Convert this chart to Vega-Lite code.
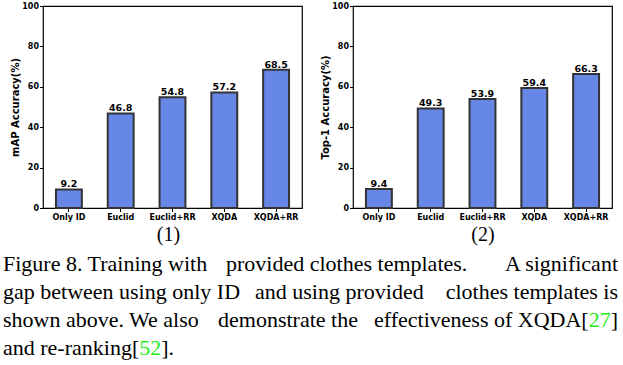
{
  "$schema": "https://vega.github.io/schema/vega-lite/v6.json",
  "background": "white",
  "padding": {"left": 3, "top": 1, "right": 0, "bottom": 0},
  "datasets": {
    "map": [
      {"method": "Only ID", "value": 9.2},
      {"method": "Euclid", "value": 46.8},
      {"method": "Euclid+RR", "value": 54.8},
      {"method": "XQDA", "value": 57.2},
      {"method": "XQDA+RR", "value": 68.5}
    ],
    "top1": [
      {"method": "Only ID", "value": 9.4},
      {"method": "Euclid", "value": 49.3},
      {"method": "Euclid+RR", "value": 53.9},
      {"method": "XQDA", "value": 59.4},
      {"method": "XQDA+RR", "value": 66.3}
    ],
    "caption": [
      {"line": 1, "seg": "L", "text": "Figure 8. Training with"},
      {"line": 1, "seg": "M1", "text": "provided clothes templates."},
      {"line": 1, "seg": "R", "text": "A significant"},
      {"line": 2, "seg": "L", "text": "gap between using only ID"},
      {"line": 2, "seg": "M2", "text": "and using provided"},
      {"line": 2, "seg": "R", "text": "clothes templates is"},
      {"line": 3, "seg": "L", "text": "shown above. We also"},
      {"line": 3, "seg": "M3", "text": "demonstrate the"},
      {"line": 3, "seg": "R", "text": "]"},
      {"line": 3, "seg": "R27", "text": "27"},
      {"line": 3, "seg": "RX", "text": "effectiveness of XQDA["},
      {"line": 4, "seg": "L", "text": "and re-ranking["},
      {"line": 4, "seg": "L52", "text": "52"},
      {"line": 4, "seg": "LEND", "text": "]."}
    ]
  },
  "config": {
    "view": {"stroke": "black", "strokeWidth": 1.2},
    "font": "DejaVu Sans",
    "axis": {
      "domain": false,
      "grid": false,
      "tickColor": "black",
      "tickSize": 3.5,
      "tickWidth": 1,
      "labelFont": "DejaVu Sans",
      "labelFontWeight": "bold",
      "labelFontSize": 8,
      "labelColor": "black",
      "titleColor": "black"
    },
    "text": {"font": "Liberation Serif", "fontSize": 22, "baseline": "alphabetic", "dy": 6, "color": "black"}
  },
  "vconcat": [
    {
      "hconcat": [
        {
          "width": 259,
          "height": 202,
          "data": {"name": "map"},
          "encoding": {
            "x": {
              "field": "method", "type": "nominal", "sort": null,
              "scale": {"paddingInner": 0.5, "paddingOuter": 0.25},
              "axis": {"title": "(1)", "titleX": 125, "labelAngle": 0, "labelFontSize": 8, "labelPadding": 1.5,
                "titleFont": "Liberation Serif", "titleFontWeight": "normal", "titleFontSize": 20, "titlePadding": 3}
            },
            "y": {
              "field": "value", "type": "quantitative",
              "scale": {"domain": [0, 100], "nice": false},
              "axis": {"title": "mAP Accuracy(%)", "values": [0, 20, 40, 60, 80, 100], "titleFontSize": 10,
                "titleFontWeight": "bold", "titlePadding": 1.5, "labelPadding": 1}
            }
          },
          "layer": [
            {"mark": {"type": "bar", "fill": "#6787E7", "stroke": "#333333", "strokeWidth": 2}},
            {"mark": {"type": "text", "baseline": "alphabetic", "dy": -2, "font": "DejaVu Sans", "fontWeight": "bold", "fontSize": 9.5, "color": "black"},
             "encoding": {
               "text": {"field": "value", "type": "quantitative", "format": ".1f"},
               "yOffset": {"field": "value", "type": "quantitative", "scale": {"domain": [0, 100], "range": [0, -20.2]}}
             }}
          ]
        },
        {
          "width": 259,
          "height": 202,
          "data": {"name": "top1"},
          "encoding": {
            "x": {
              "field": "method", "type": "nominal", "sort": null,
              "scale": {"paddingInner": 0.5, "paddingOuter": 0.25},
              "axis": {"title": "(2)", "labelAngle": 0, "labelFontSize": 8, "labelPadding": 1.5,
                "titleFont": "Liberation Serif", "titleFontWeight": "normal", "titleFontSize": 20, "titlePadding": 3}
            },
            "y": {
              "field": "value", "type": "quantitative",
              "scale": {"domain": [0, 100], "nice": false},
              "axis": {"title": "Top-1 Accuracy(%)", "values": [0, 20, 40, 60, 80, 100], "titleFontSize": 10,
                "titleFontWeight": "bold", "titlePadding": 1.5, "labelPadding": 1}
            }
          },
          "layer": [
            {"mark": {"type": "bar", "fill": "#6787E7", "stroke": "#333333", "strokeWidth": 2}},
            {"mark": {"type": "text", "baseline": "alphabetic", "dy": -2, "font": "DejaVu Sans", "fontWeight": "bold", "fontSize": 9.5, "color": "black"},
             "encoding": {
               "text": {"field": "value", "type": "quantitative", "format": ".1f"},
               "yOffset": {"field": "value", "type": "quantitative", "scale": {"domain": [0, 100], "range": [0, -20.2]}}
             }}
          ]
        }
      ],
      "spacing": 16
    },
    {
      "width": 575,
      "height": 112,
      "view": {"stroke": null},
      "data": {"name": "caption"},
      "encoding": {
        "y": {"field": "line", "type": "ordinal", "scale": {"type": "point", "padding": 0.5}, "axis": null},
        "text": {"field": "text", "type": "nominal"}
      },
      "layer": [
        {"transform": [{"filter": "datum.seg == 'L'"}],
         "mark": {"type": "text", "align": "left", "dx": -40},
         "encoding": {"x": {"value": 0}}},
        {"transform": [{"filter": "datum.seg == 'M1'"}],
         "mark": {"type": "text", "align": "left", "dx": 183},
         "encoding": {"x": {"value": 0}}},
        {"transform": [{"filter": "datum.seg == 'M2'"}],
         "mark": {"type": "text", "align": "left", "dx": 212},
         "encoding": {"x": {"value": 0}}},
        {"transform": [{"filter": "datum.seg == 'M3'"}],
         "mark": {"type": "text", "align": "left", "dx": 175},
         "encoding": {"x": {"value": 0}}},
        {"transform": [{"filter": "datum.seg == 'R'"}],
         "mark": {"type": "text", "align": "right"},
         "encoding": {"x": {"value": "width"}}},
        {"transform": [{"filter": "datum.seg == 'R27'"}],
         "mark": {"type": "text", "align": "right", "dx": -7.3, "color": "#22EE22"},
         "encoding": {"x": {"value": "width"}}},
        {"transform": [{"filter": "datum.seg == 'RX'"}],
         "mark": {"type": "text", "align": "right", "dx": -29.3},
         "encoding": {"x": {"value": "width"}}},
        {"transform": [{"filter": "datum.seg == 'L52'"}],
         "mark": {"type": "text", "align": "left", "dx": 96.2, "color": "#22EE22"},
         "encoding": {"x": {"value": 0}}},
        {"transform": [{"filter": "datum.seg == 'LEND'"}],
         "mark": {"type": "text", "align": "left", "dx": 118.2},
         "encoding": {"x": {"value": 0}}}
      ]
    }
  ],
  "spacing": 6
}
